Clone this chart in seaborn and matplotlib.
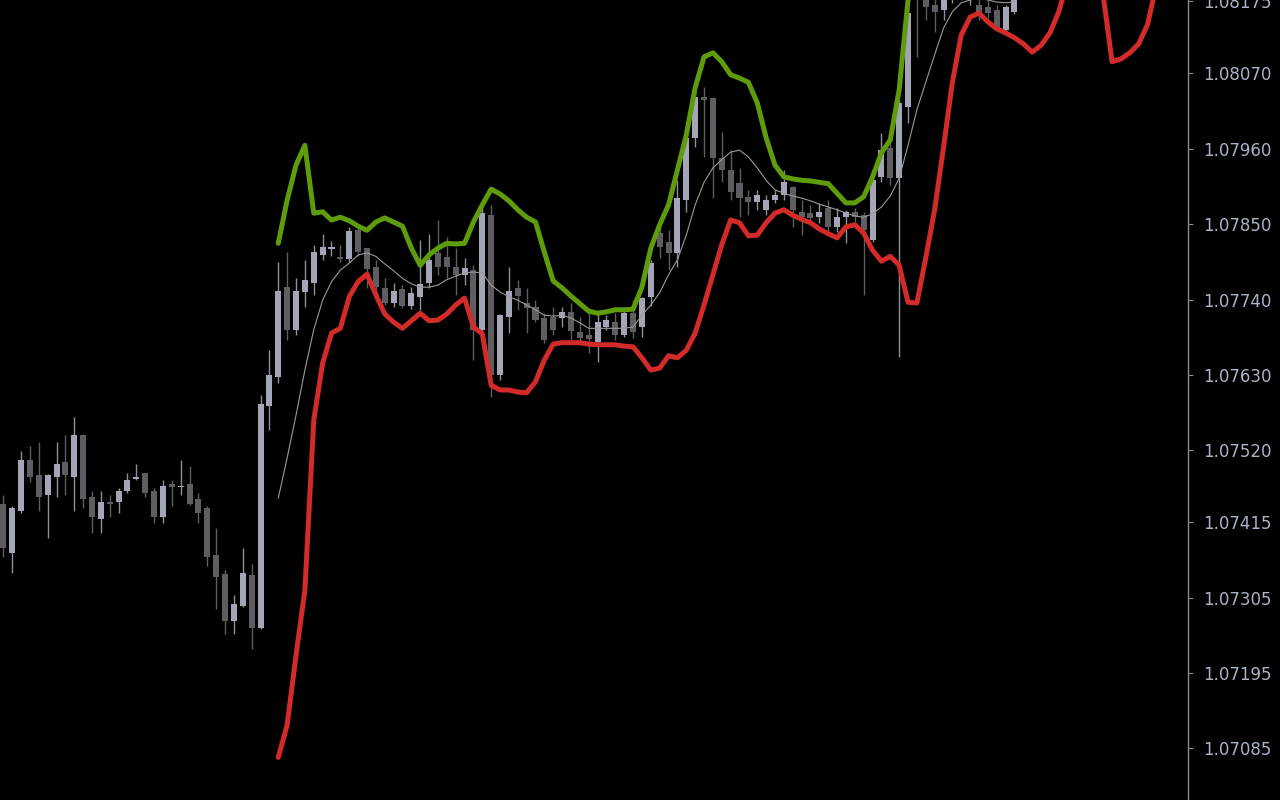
import matplotlib
matplotlib.use("Agg")
import matplotlib.pyplot as plt
import numpy as np
import pandas as pd
import seaborn as sns

# OHLC candles, one per bar (bar 0 at the left edge)
opens = [
    1.07442, 1.07370, 1.07431, 1.07506, 1.07484, 1.07455, 1.07481, 1.07503, 1.07481, 1.07542,
    1.07452, 1.07420, 1.07445, 1.07445, 1.07461, 1.07478, 1.07487, 1.07461, 1.07423, 1.07471,
    1.07466, 1.07471, 1.07449, 1.07436, 1.07367, 1.07340, 1.07271, 1.07293, 1.07338, 1.07261,
    1.07585, 1.07627, 1.07758, 1.07696, 1.07751, 1.07764, 1.07805, 1.07814, 1.07802, 1.07799,
    1.07841, 1.07815, 1.07787, 1.07757, 1.07735, 1.07755, 1.07731, 1.07744, 1.07764, 1.07808,
    1.07802, 1.07787, 1.07776, 1.07783, 1.07696, 1.07863, 1.07630, 1.07715, 1.07757, 1.07735,
    1.07729, 1.07713, 1.07715, 1.07713, 1.07722, 1.07693, 1.07688, 1.07678, 1.07700, 1.07707,
    1.07688, 1.07720, 1.07700, 1.07744, 1.07837, 1.07824, 1.07808, 1.07885, 1.07976, 1.08035,
    1.08034, 1.07946, 1.07929, 1.07910, 1.07890, 1.07882, 1.07871, 1.07885, 1.07892, 1.07904,
    1.07868, 1.07866, 1.07860, 1.07874, 1.07846, 1.07860, 1.07868, 1.07863, 1.07827, 1.07919,
    1.07961, 1.07917, 1.08021, 1.08199, 1.08192, 1.08170, 1.08162, 1.08184, 1.08203, 1.08184,
    1.08170, 1.08167, 1.08162, 1.08133, 1.08160,
]
highs = [
    1.07455, 1.07439, 1.07519, 1.07526, 1.07532, 1.07485, 1.07532, 1.07542, 1.07569, 1.07544,
    1.07461, 1.07461, 1.07455, 1.07465, 1.07487, 1.07500, 1.07487, 1.07465, 1.07477, 1.07477,
    1.07506, 1.07497, 1.07458, 1.07439, 1.07407, 1.07345, 1.07309, 1.07377, 1.07354, 1.07601,
    1.07666, 1.07795, 1.07809, 1.07771, 1.07798, 1.07820, 1.07836, 1.07825, 1.07820, 1.07846,
    1.07846, 1.07815, 1.07798, 1.07771, 1.07764, 1.07761, 1.07758, 1.07827, 1.07836, 1.07856,
    1.07831, 1.07815, 1.07801, 1.07790, 1.07878, 1.07878, 1.07719, 1.07787, 1.07769, 1.07757,
    1.07739, 1.07720, 1.07729, 1.07729, 1.07735, 1.07715, 1.07720, 1.07720, 1.07717, 1.07720,
    1.07723, 1.07739, 1.07744, 1.07798, 1.07847, 1.07841, 1.07914, 1.07987, 1.08050, 1.08050,
    1.08035, 1.07984, 1.07958, 1.07932, 1.07900, 1.07900, 1.07892, 1.07900, 1.07929, 1.07906,
    1.07885, 1.07878, 1.07881, 1.07885, 1.07874, 1.07871, 1.07874, 1.07868, 1.07926, 1.07983,
    1.07983, 1.08031, 1.08184, 1.08213, 1.08206, 1.08192, 1.08199, 1.08221, 1.08213, 1.08206,
    1.08184, 1.08177, 1.08170, 1.08170, 1.08192,
]
lows = [
    1.07364, 1.07341, 1.07428, 1.07474, 1.07431, 1.07392, 1.07452, 1.07455, 1.07431, 1.07436,
    1.07399, 1.07399, 1.07423, 1.07428, 1.07458, 1.07477, 1.07452, 1.07414, 1.07414, 1.07439,
    1.07455, 1.07440, 1.07414, 1.07351, 1.07289, 1.07252, 1.07252, 1.07291, 1.07230, 1.07259,
    1.07550, 1.07618, 1.07681, 1.07688, 1.07729, 1.07747, 1.07798, 1.07804, 1.07795, 1.07795,
    1.07804, 1.07757, 1.07742, 1.07732, 1.07729, 1.07728, 1.07726, 1.07725, 1.07757, 1.07776,
    1.07771, 1.07747, 1.07761, 1.07652, 1.07681, 1.07598, 1.07623, 1.07691, 1.07725, 1.07691,
    1.07707, 1.07677, 1.07688, 1.07700, 1.07681, 1.07677, 1.07662, 1.07649, 1.07696, 1.07681,
    1.07685, 1.07684, 1.07685, 1.07731, 1.07801, 1.07783, 1.07787, 1.07868, 1.07962, 1.07948,
    1.07888, 1.07911, 1.07885, 1.07860, 1.07863, 1.07871, 1.07863, 1.07881, 1.07885, 1.07846,
    1.07834, 1.07853, 1.07852, 1.07838, 1.07838, 1.07822, 1.07853, 1.07747, 1.07824, 1.07911,
    1.07907, 1.07656, 1.07998, 1.08094, 1.08148, 1.08130, 1.08148, 1.08173, 1.08177, 1.08170,
    1.08148, 1.08151, 1.08133, 1.08130, 1.08157,
]
closes = [
    1.07377, 1.07436, 1.07506, 1.07481, 1.07452, 1.07484, 1.07500, 1.07484, 1.07542, 1.07449,
    1.07423, 1.07445, 1.07442, 1.07461, 1.07477, 1.07481, 1.07458, 1.07423, 1.07468, 1.07466,
    1.07468, 1.07442, 1.07428, 1.07364, 1.07335, 1.07271, 1.07296, 1.07341, 1.07261, 1.07588,
    1.07630, 1.07752, 1.07696, 1.07752, 1.07769, 1.07809, 1.07817, 1.07817, 1.07799, 1.07840,
    1.07809, 1.07785, 1.07758, 1.07735, 1.07752, 1.07731, 1.07750, 1.07763, 1.07798, 1.07787,
    1.07787, 1.07776, 1.07786, 1.07696, 1.07866, 1.07630, 1.07717, 1.07752, 1.07745, 1.07728,
    1.07710, 1.07681, 1.07696, 1.07722, 1.07694, 1.07684, 1.07682, 1.07707, 1.07710, 1.07688,
    1.07720, 1.07693, 1.07742, 1.07793, 1.07817, 1.07808, 1.07888, 1.07976, 1.08035, 1.08031,
    1.07946, 1.07929, 1.07897, 1.07888, 1.07882, 1.07892, 1.07885, 1.07892, 1.07911, 1.07871,
    1.07860, 1.07859, 1.07868, 1.07846, 1.07860, 1.07868, 1.07860, 1.07841, 1.07914, 1.07958,
    1.07917, 1.08027, 1.08158, 1.08184, 1.08167, 1.08160, 1.08184, 1.08206, 1.08189, 1.08199,
    1.08160, 1.08158, 1.08136, 1.08167, 1.08180,
]

# indicator lines, all starting at bar 31
line_start = 31
ma_line = [
    1.07450, 1.07509, 1.07571, 1.07637, 1.07696, 1.07739, 1.07766, 1.07783, 1.07793, 1.07805,
    1.07808, 1.07803, 1.07792, 1.07782, 1.07771, 1.07763, 1.07758, 1.07758, 1.07761, 1.07769,
    1.07774, 1.07779, 1.07780, 1.07779, 1.07761, 1.07751, 1.07744, 1.07739, 1.07732, 1.07725,
    1.07717, 1.07716, 1.07717, 1.07713, 1.07706, 1.07698, 1.07698, 1.07698, 1.07698, 1.07698,
    1.07700, 1.07717, 1.07732, 1.07750, 1.07776, 1.07798, 1.07834, 1.07878, 1.07911, 1.07932,
    1.07944, 1.07955, 1.07958, 1.07948, 1.07932, 1.07914, 1.07900, 1.07895, 1.07891, 1.07888,
    1.07884, 1.07879, 1.07875, 1.07871, 1.07866, 1.07862, 1.07860, 1.07865, 1.07875, 1.07891,
    1.07917, 1.07965, 1.08017, 1.08057, 1.08097, 1.08136, 1.08160, 1.08173, 1.08177, 1.08180,
    1.08177, 1.08174, 1.08173, 1.08174,
]
upper_band = [
    1.07822, 1.07885, 1.07936, 1.07965, 1.07866, 1.07868, 1.07856, 1.07860, 1.07855, 1.07847,
    1.07841, 1.07853, 1.07859, 1.07853, 1.07847, 1.07815, 1.07790, 1.07805, 1.07815, 1.07822,
    1.07821, 1.07822, 1.07853, 1.07878, 1.07901, 1.07894, 1.07884, 1.07871, 1.07860, 1.07853,
    1.07809, 1.07767, 1.07757, 1.07745, 1.07734, 1.07723, 1.07720, 1.07722, 1.07725, 1.07725,
    1.07726, 1.07758, 1.07815, 1.07849, 1.07878, 1.07929, 1.07980, 1.08049, 1.08094, 1.08100,
    1.08087, 1.08068, 1.08063, 1.08057, 1.08027, 1.07976, 1.07936, 1.07919, 1.07916, 1.07914,
    1.07913, 1.07911, 1.07909, 1.07895, 1.07881, 1.07881, 1.07890, 1.07919, 1.07954, 1.07973,
    1.08046, 1.08177, 1.08265,
]
lower_band = [
    1.07072, 1.07119, 1.07221, 1.07316, 1.07564, 1.07647, 1.07691, 1.07698, 1.07744, 1.07766,
    1.07777, 1.07747, 1.07719, 1.07707, 1.07698, 1.07709, 1.07720, 1.07709, 1.07710, 1.07719,
    1.07732, 1.07742, 1.07700, 1.07690, 1.07615, 1.07608, 1.07608, 1.07605, 1.07604, 1.07620,
    1.07652, 1.07675, 1.07677, 1.07677, 1.07677, 1.07675, 1.07674, 1.07674, 1.07674, 1.07672,
    1.07671, 1.07655, 1.07637, 1.07640, 1.07658, 1.07655, 1.07666, 1.07691, 1.07732, 1.07776,
    1.07820, 1.07856, 1.07852, 1.07833, 1.07834, 1.07852, 1.07866, 1.07871, 1.07863, 1.07857,
    1.07852, 1.07843, 1.07836, 1.07830, 1.07846, 1.07849, 1.07837, 1.07812, 1.07796, 1.07803,
    1.07790, 1.07736, 1.07735, 1.07801, 1.07871, 1.07962, 1.08057, 1.08126, 1.08152, 1.08158,
    1.08145, 1.08135, 1.08129, 1.08122, 1.08113, 1.08101, 1.08111, 1.08129, 1.08160, 1.08206,
    1.08250, 1.08265, 1.08235, 1.08184, 1.08087, 1.08091, 1.08100, 1.08113, 1.08141, 1.08199,
]

price_ticks = [1.08175, 1.08070, 1.07960, 1.07850, 1.07740, 1.07630,
               1.07520, 1.07415, 1.07305, 1.07195, 1.07085]
price_labels = ["1.08175", "1.08070", "1.07960", "1.07850", "1.07740", "1.07630",
                "1.07520", "1.07415", "1.07305", "1.07195", "1.07085"]

BG = "black"
BULL = "#a4a6b8"
BEAR = "#5d5d62"
BULL_WICK = "#8e909e"
BEAR_WICK = "#5d5d62"
GREEN = "#5f9c0c"
RED = "#d32a2a"
MA_COL = "#9a9a9a"
AXIS_COL = "#8c8c8c"
LABEL_COL = "#a9b4c6"

sns.set_theme(style="dark")
plt.rcParams["font.family"] = ["DejaVu Sans"]

candles = pd.DataFrame({"open": opens, "high": highs, "low": lows, "close": closes})
candles["bar"] = np.arange(len(candles))
candles["up"] = candles["close"] >= candles["open"]

fig = plt.figure(figsize=(12.8, 8), dpi=100, facecolor=BG)
ax = fig.add_axes([0, 0, 1188 / 1280, 1])
ax.set_facecolor(BG)

# candles: wicks then bodies
for is_up, wick_col, body_col in [(True, BULL_WICK, BULL), (False, BEAR_WICK, BEAR)]:
    sub = candles[candles["up"] == is_up]
    ax.vlines(sub["bar"], sub["low"], sub["high"], color=wick_col, linewidth=1, zorder=2)
    body_lo = sub[["open", "close"]].min(axis=1)
    body_h = (sub["close"] - sub["open"]).abs().clip(lower=0.000015)
    ax.bar(sub["bar"], body_h, bottom=body_lo, width=0.68, color=body_col,
           linewidth=0, zorder=3)

# indicator lines
for values, col, lw in [(ma_line, MA_COL, 0.8), (upper_band, GREEN, 3.6), (lower_band, RED, 3.6)]:
    df = pd.DataFrame({"bar": np.arange(line_start, line_start + len(values)), "price": values})
    sns.lineplot(data=df, x="bar", y="price", ax=ax, color=col, linewidth=lw,
                 solid_joinstyle="round", solid_capstyle="round", zorder=4)

px_per_bar = 8.87
ax.set_xlim(-3.3 / px_per_bar, (1188 - 3.3) / px_per_bar)
ax.set_ylim(1.070098, 1.08177)

ax.yaxis.tick_right()
ax.set_yticks(price_ticks)
ax.set_yticklabels(price_labels)
ax.tick_params(axis="y", colors=AXIS_COL, labelcolor=LABEL_COL, labelsize=12,
               length=3.6, width=0.8, pad=7, right=True, left=False)
ax.tick_params(axis="x", bottom=False, labelbottom=False)
ax.set_xlabel("")
ax.set_ylabel("")
ax.grid(False)
for side in ["top", "left", "bottom"]:
    ax.spines[side].set_visible(False)
ax.spines["right"].set_color(AXIS_COL)
ax.spines["right"].set_linewidth(1)

fig.savefig("out.png", dpi=100, facecolor=BG)
